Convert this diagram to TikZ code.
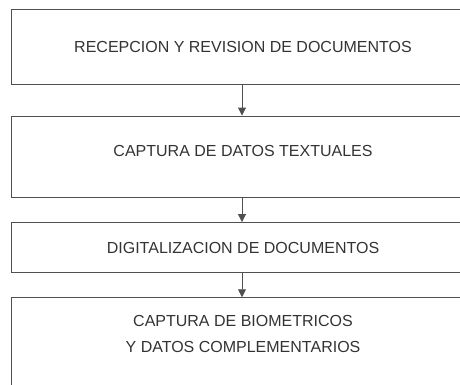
\documentclass[tikz,border=0pt]{standalone}
\usepackage{fontspec}
\setmainfont{Liberation Sans}
\usetikzlibrary{arrows.meta}
\definecolor{linea}{HTML}{505050}
\definecolor{texto}{HTML}{333333}

\begin{document}
\begin{tikzpicture}[x=1pt, y=-1pt,
  etapa/.style={draw=linea, rectangle, line width=0.9pt, text=texto,
    minimum width=463pt, align=center, font=\fontsize{16}{25.7}\selectfont},
  flecha/.style={-{Triangle[width=8pt,length=8pt]}, draw=linea, line width=0.9pt}]
  \useasboundingbox (0,0) rectangle (460,384);

  % Etapas del proceso
  \node[etapa, minimum height=74.5pt] (recepcion) at (243,46.75)
    {RECEPCION Y REVISION DE DOCUMENTOS};
  \node[etapa, minimum height=81pt, text depth=11pt] (captura) at (243,156.5)
    {CAPTURA DE DATOS TEXTUALES};
  \node[etapa, minimum height=50.2pt] (digital) at (243,247.6)
    {DIGITALIZACION DE DOCUMENTOS};
  \node[etapa, minimum height=100pt, text depth=28pt] (biometria) at (243,347.7)
    {CAPTURA DE BIOMETRICOS\\Y DATOS COMPLEMENTARIOS};

  % Flechas
  \coordinate (eje) at (242,0);
  \draw[flecha] (recepcion.south -| eje) -- (captura.north -| eje);
  \draw[flecha] (captura.south -| eje) -- (digital.north -| eje);
  \draw[flecha] (digital.south -| eje) -- (biometria.north -| eje);
\end{tikzpicture}
\end{document}
